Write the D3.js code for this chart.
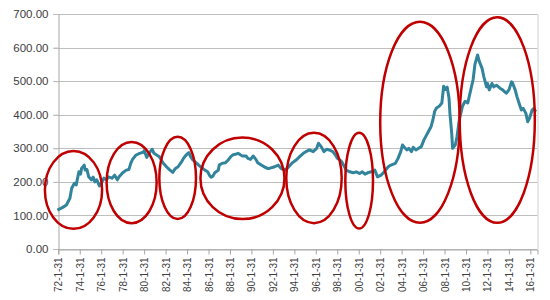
<!DOCTYPE html>
<html>
<head>
<meta charset="utf-8">
<script src="https://cdn.jsdelivr.net/npm/d3@7"></script>
<style>
  body { margin: 0; background: #fff; }
  text { font-family: "Liberation Sans", Arial, sans-serif; fill: #404040; }
</style>
</head>
<body>
<script>
const w = 550;
const h = 300;
const plotLeft = 58.3;
const plotRight = 537.5;
const plotTop = 14;
const plotBottom = 249;

// series (month, value)
const months = [
    "1972-01", "1972-07", "1972-11", "1973-03", "1973-05", "1973-08", "1973-10", "1974-01",
    "1974-03", "1974-04", "1974-07", "1974-08", "1974-10", "1974-12", "1975-03", "1975-05",
    "1975-07", "1975-09", "1975-12", "1976-02", "1976-05", "1976-08", "1976-10", "1977-02",
    "1977-05", "1977-08", "1977-10", "1978-02", "1978-06", "1978-09", "1978-11", "1979-01",
    "1979-05", "1979-09", "1980-01", "1980-02", "1980-05", "1980-08", "1980-11", "1981-01",
    "1981-04", "1981-07", "1981-11", "1982-03", "1982-06", "1982-10", "1983-01", "1983-04",
    "1983-08", "1983-10", "1984-01", "1984-04", "1984-06", "1984-08", "1984-12", "1985-03",
    "1985-06", "1985-10", "1986-01", "1986-03", "1986-05", "1986-07", "1986-09", "1987-01",
    "1987-02", "1987-05", "1987-09", "1987-12", "1988-03", "1988-05", "1988-08", "1988-11",
    "1989-02", "1989-04", "1989-08", "1989-10", "1990-01", "1990-04", "1990-07", "1990-09",
    "1991-01", "1991-05", "1991-08", "1991-10", "1992-04", "1992-08", "1992-11", "1993-03",
    "1993-06", "1993-11", "1994-04", "1994-08", "1994-12", "1995-03", "1995-07", "1995-11",
    "1996-03", "1996-05", "1996-08", "1996-11", "1997-02", "1997-05", "1997-09", "1997-12",
    "1998-02", "1998-05", "1998-07", "1998-09", "1998-12", "1999-04", "1999-08", "1999-11",
    "2000-03", "2000-06", "2000-09", "2000-12", "2001-04", "2001-08", "2001-11", "2002-03",
    "2002-05", "2002-11", "2003-02", "2003-07", "2003-10", "2004-01", "2004-03", "2004-05",
    "2004-08", "2004-10", "2005-01", "2005-03", "2005-06", "2005-09", "2005-12", "2006-03",
    "2006-06", "2006-08", "2006-11", "2007-01", "2007-03", "2007-05", "2007-08", "2007-11",
    "2008-01", "2008-03", "2008-05", "2008-07", "2008-08", "2008-10", "2008-11", "2009-02",
    "2009-04", "2009-06", "2009-07", "2009-10", "2010-01", "2010-04", "2010-07", "2010-10",
    "2010-12", "2011-03", "2011-05", "2011-08", "2011-10", "2012-01", "2012-02", "2012-04",
    "2012-07", "2012-09", "2012-12", "2013-04", "2013-07", "2013-11", "2014-02", "2014-05",
    "2014-06", "2014-09", "2014-11", "2015-02", "2015-04", "2015-06", "2015-09", "2015-11",
    "2016-01", "2016-04", "2016-06", "2016-08"
];
const values = [
    116, 124, 131, 151, 181, 196, 191, 230,
    223, 240, 250, 235, 237, 215, 206, 214,
    200, 206, 188, 196, 211, 206, 215, 211,
    220, 206, 215, 227, 235, 237, 255, 267,
    280, 285, 288, 293, 273, 287, 297, 285,
    280, 275, 257, 245, 237, 228, 240, 245,
    260, 270, 280, 287, 275, 267, 257, 250,
    243, 235, 230, 220, 214, 217, 227, 235,
    250, 255, 257, 265, 275, 280, 282, 285,
    280, 277, 277, 270, 267, 277, 267, 257,
    250, 244, 240, 240, 245, 250, 240, 235,
    240, 255, 265, 275, 285, 290, 295, 290,
    300, 315, 305, 290, 297, 295, 290, 280,
    270, 265, 260, 250, 235, 230, 227, 230,
    225, 230, 223, 227, 230, 235, 215, 220,
    225, 245, 250, 255, 270, 290, 310, 303,
    295, 300, 290, 303, 295, 300, 305, 325,
    340, 350, 365, 385, 410, 420, 425, 435,
    485, 475, 482, 450, 405, 345, 300, 310,
    335, 375, 390, 425, 440, 435, 470, 505,
    550, 578, 558, 538, 513, 483, 493, 474,
    493, 483, 488, 479, 474, 464, 474, 498,
    495, 474, 454, 429, 414, 419, 404, 379,
    389, 414, 419, 409
];

const xTickLabels = [
    "72-1-31", "74-1-31", "76-1-31", "78-1-31", "80-1-31", "82-1-31", "84-1-31", "86-1-31",
    "88-1-31", "90-1-31", "92-1-31", "94-1-31", "96-1-31", "98-1-31", "00-1-31", "02-1-31",
    "04-1-31", "06-1-31", "08-1-31", "10-1-31", "12-1-31", "14-1-31", "16-1-31"
];
const yTicks = [0, 100, 200, 300, 400, 500, 600, 700];

// red highlight ellipses: month span and value span
const ringStart = ["1970-11", "1976-08", "1981-07", "1985-05", "1993-05", "1998-11", "2002-02", "2009-07"];
const ringEnd   = ["1976-03", "1981-04", "1984-12", "1993-03", "1998-07", "2001-06", "2009-07", "2016-07"];
const ringLow   = [60, 77, 89, 89, 77, 61, 78, 78];
const ringHigh  = [292, 319, 334, 332, 346, 346, 677, 690];

const parseMonth = d3.timeParse("%Y-%m");
const parseTick = d3.timeParse("%y-%m-%d");

const data = months.map(function (m, i) {
    return { date: parseMonth(m), value: values[i] };
});

const svg = d3.select("body").append("svg").attr("width", w).attr("height", h);

const xScale = d3.scaleTime()
    .domain([parseTick("72-1-31"), new Date(2016, 8, 30)])
    .range([plotLeft, plotRight]);

const yScale = d3.scaleLinear()
    .domain([0, 700])
    .range([plotBottom, plotTop]);

// gridlines
svg.append("g")
    .selectAll("line")
    .data(yTicks)
    .enter()
    .append("line")
    .attr("x1", plotLeft - 5)
    .attr("x2", plotRight)
    .attr("y1", function (d) { return Math.round(yScale(d)) + 0.5; })
    .attr("y2", function (d) { return Math.round(yScale(d)) + 0.5; })
    .attr("stroke", "#bfbfbf")
    .attr("stroke-width", 1);

// plot area right border
svg.append("line")
    .attr("x1", plotRight + 0.5)
    .attr("x2", plotRight + 0.5)
    .attr("y1", yScale(700))
    .attr("y2", yScale(0))
    .attr("stroke", "#d0d0d0");

// y axis
const yAxis = d3.axisLeft(yScale)
    .tickValues(yTicks)
    .tickFormat(d3.format(".2f"))
    .tickSize(5)
    .tickPadding(5);

const gy = svg.append("g")
    .attr("transform", "translate(" + (Math.round(plotLeft) + 0.5) + ",0)")
    .call(yAxis);
gy.select(".domain").attr("stroke", "#a6a6a6");
gy.selectAll(".tick line").attr("stroke", "#bfbfbf");
gy.selectAll("text")
    .style("font-size", "11.5px")
    .attr("fill", "#404040")
    .attr("font-family", "Liberation Sans, Arial, sans-serif");

// x axis
const xAxis = d3.axisBottom(xScale)
    .tickValues(xTickLabels.map(parseTick))
    .tickFormat(function (d, i) { return xTickLabels[i]; })
    .tickSizeOuter(0)
    .tickSize(5);

const gx = svg.append("g")
    .attr("transform", "translate(0," + (Math.round(plotBottom) + 0.5) + ")")
    .call(xAxis);
gx.select(".domain").attr("stroke", "#a6a6a6");
gx.selectAll(".tick line").attr("stroke", "#a6a6a6");
gx.selectAll("text")
    .attr("transform", "rotate(-90)")
    .attr("x", -8)
    .attr("y", 0)
    .attr("dy", "0.35em")
    .style("text-anchor", "end")
    .style("font-size", "10px")
    .attr("fill", "#404040")
    .attr("font-family", "Liberation Sans, Arial, sans-serif");

// series
const line = d3.line()
    .x(function (d) { return xScale(d.date); })
    .y(function (d) { return yScale(d.value); });

svg.append("path")
    .datum(data)
    .attr("d", line)
    .attr("fill", "none")
    .attr("stroke", "#31849b")
    .attr("stroke-width", 3)
    .attr("stroke-linejoin", "round");

// ellipses
svg.append("g")
    .selectAll("ellipse")
    .data(ringStart)
    .enter()
    .append("ellipse")
    .attr("cx", function (d, i) {
        return (xScale(parseMonth(d)) + xScale(parseMonth(ringEnd[i]))) / 2;
    })
    .attr("cy", function (d, i) {
        return (yScale(ringLow[i]) + yScale(ringHigh[i])) / 2;
    })
    .attr("rx", function (d, i) {
        return (xScale(parseMonth(ringEnd[i])) - xScale(parseMonth(d))) / 2;
    })
    .attr("ry", function (d, i) {
        return (yScale(ringLow[i]) - yScale(ringHigh[i])) / 2;
    })
    .attr("fill", "none")
    .attr("stroke", "#c00000")
    .attr("stroke-width", 2.5);
</script>
</body>
</html>
